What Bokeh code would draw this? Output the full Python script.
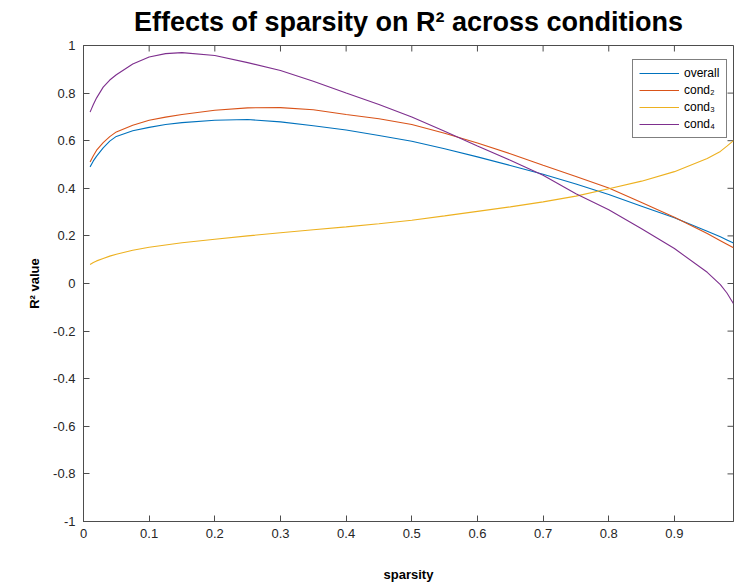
import math
from bokeh.plotting import figure
from bokeh.models import (FixedTicker, CustomJSTickFormatter, Legend,
                          LegendItem, Range1d)
from bokeh.embed import file_html
from bokeh.resources import INLINE

# ---- data ----
sparsity = [0.01, 0.015, 0.02, 0.03, 0.04, 0.05, 0.075, 0.1, 0.125, 0.15, 0.2, 0.25,
            0.3, 0.35, 0.4, 0.45, 0.5, 0.55, 0.6, 0.65, 0.7, 0.75, 0.8, 0.85, 0.9,
            0.95, 0.97, 0.98, 0.99]
overall = [0.49, 0.515, 0.535, 0.57, 0.598, 0.618, 0.642, 0.656, 0.668, 0.676, 0.686,
           0.689, 0.679, 0.663, 0.645, 0.622, 0.598, 0.566, 0.532, 0.496, 0.459,
           0.418, 0.374, 0.325, 0.276, 0.22, 0.196, 0.183, 0.17]
cond2 = [0.51, 0.537, 0.56, 0.592, 0.617, 0.637, 0.665, 0.686, 0.699, 0.71, 0.728,
         0.738, 0.739, 0.73, 0.71, 0.692, 0.668, 0.631, 0.59, 0.545, 0.497, 0.45,
         0.401, 0.34, 0.278, 0.21, 0.18, 0.165, 0.15]
cond3 = [0.08, 0.088, 0.095, 0.105, 0.115, 0.123, 0.14, 0.152, 0.162, 0.171, 0.186,
         0.2, 0.213, 0.226, 0.238, 0.251, 0.266, 0.284, 0.303, 0.322, 0.343, 0.367,
         0.398, 0.43, 0.47, 0.525, 0.555, 0.577, 0.60]
cond4 = [0.72, 0.752, 0.78, 0.825, 0.855, 0.877, 0.922, 0.952, 0.966, 0.97, 0.958,
         0.928, 0.895, 0.85, 0.80, 0.752, 0.70, 0.64, 0.578, 0.518, 0.455, 0.377,
         0.31, 0.23, 0.147, 0.047, -0.005, -0.04, -0.085]

series_names = ["overall", "cond\u2082", "cond\u2083", "cond\u2084"]
series_colors = ["#0072BD", "#D95319", "#EDB120", "#7E2F8E"]

x_ticks = [0, 0.1, 0.2, 0.3, 0.4, 0.5, 0.6, 0.7, 0.8, 0.9]
y_ticks = [-1, -0.8, -0.6, -0.4, -0.2, 0, 0.2, 0.4, 0.6, 0.8, 1]
x_limits = (0, 0.99)
y_limits = (-1, 1)

FONT = "Liberation Sans"
AXC = "#262626"
LINEC = "#4d4d4d"

p = figure(width=734, height=586, output_backend="svg", toolbar_location=None,
           x_range=Range1d(*x_limits), y_range=Range1d(*y_limits),
           min_border_left=83, min_border_right=1, min_border_top=45,
           min_border_bottom=65)
p.background_fill_color = "white"
p.border_fill_color = "white"
p.xgrid.visible = False
p.ygrid.visible = False
p.outline_line_color = LINEC
p.outline_line_width = 1

p.title.text = "Effects of sparsity on R\u00b2 across conditions"
p.title.align = "center"
p.title.vertical_align = "top"
p.title.text_font = FONT
p.title.text_font_size = "27px"
p.title.text_font_style = "bold"
p.title.text_color = "#000000"
p.title.standoff = 13

fmt = CustomJSTickFormatter(code="return Number(tick.toFixed(4)).toString();")

xa = p.xaxis[0]
ya = p.yaxis[0]
for ax, ticks in ((xa, x_ticks), (ya, y_ticks)):
    ax.ticker = FixedTicker(ticks=ticks)
    ax.formatter = fmt
    ax.axis_line_color = LINEC
    ax.axis_line_width = 1
    ax.major_tick_line_color = LINEC
    ax.major_tick_in = 6
    ax.major_tick_out = 0
    ax.minor_tick_line_color = None
    ax.major_label_text_font = FONT
    ax.major_label_text_color = AXC
    ax.major_label_text_font_size = "13px"
    ax.axis_label_text_font = FONT
    ax.axis_label_text_font_size = "13px"
    ax.axis_label_text_font_style = "bold"
    ax.axis_label_text_color = "#000000"
xa.major_label_standoff = 7
ya.major_label_standoff = 8
xa.axis_label = "sparsity"
ya.axis_label = "R\u00b2 value"
xa.axis_label_standoff = 26
ya.axis_label_standoff = 8

# inward ticks on the top and right edges of the box
p.ray(x=x_ticks, y=[y_limits[1]] * len(x_ticks), length=6, length_units="screen",
      angle=-math.pi / 2, line_color=LINEC, line_width=1)
p.ray(x=[x_limits[1]] * len(y_ticks), y=y_ticks, length=6, length_units="screen",
      angle=math.pi, line_color=LINEC, line_width=1)

renderers = []
for ys, c in zip([overall, cond2, cond3, cond4], series_colors):
    r = p.line(sparsity, ys, line_color=c, line_width=1.1)
    renderers.append(r)

legend = Legend(items=[LegendItem(label=n, renderers=[r])
                       for n, r in zip(series_names, renderers)],
                location=(549, 383))
legend.border_line_color = "#000000"
legend.border_line_width = 1
legend.background_fill_color = "white"
legend.background_fill_alpha = 1
legend.label_text_font = FONT
legend.label_text_font_size = "12px"
legend.label_text_color = "#000000"
legend.glyph_width = 40
legend.glyph_height = 14
legend.label_height = 14
legend.label_width = 36
legend.label_standoff = 5
legend.spacing = 3
legend.padding = 6
legend.margin = 0
p.add_layout(legend, "center")

open("out.html", "w").write(file_html(p, INLINE))
